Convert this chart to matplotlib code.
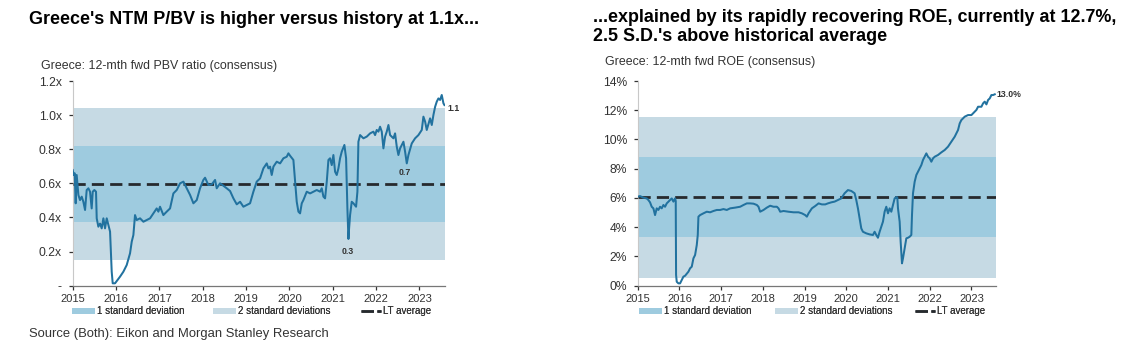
import matplotlib
matplotlib.use("Agg")
import matplotlib.pyplot as plt
from matplotlib.patches import Patch
from matplotlib.lines import Line2D

plt.rcParams['font.family'] = ['Liberation Sans', 'DejaVu Sans']

# ---------------- data ----------------
pbv_dates = [2015.000, 2015.023, 2015.046, 2015.069, 2015.092, 2015.131, 2015.169, 2015.208, 2015.246,
             2015.285, 2015.323, 2015.362, 2015.400, 2015.438, 2015.462, 2015.500, 2015.538, 2015.554,
             2015.592, 2015.631, 2015.669, 2015.708, 2015.746, 2015.785, 2015.823, 2015.862, 2015.900,
             2015.923, 2015.977, 2016.015, 2016.092, 2016.169, 2016.246, 2016.323, 2016.362, 2016.400,
             2016.438, 2016.477, 2016.554, 2016.631, 2016.708, 2016.785, 2016.862, 2016.938, 2016.977,
             2017.015, 2017.092, 2017.169, 2017.246, 2017.323, 2017.400, 2017.477, 2017.554, 2017.631,
             2017.708, 2017.785, 2017.862, 2017.938, 2018.015, 2018.054, 2018.131, 2018.208, 2018.285,
             2018.323, 2018.400, 2018.477, 2018.554, 2018.631, 2018.708, 2018.785, 2018.862, 2018.938,
             2019.015, 2019.092, 2019.169, 2019.246, 2019.323,
             2019.400, 2019.477, 2019.515, 2019.554, 2019.592, 2019.631, 2019.708, 2019.785, 2019.862,
             2019.938, 2019.977, 2020.015, 2020.092, 2020.131, 2020.169, 2020.208, 2020.246, 2020.285,
             2020.323, 2020.400, 2020.477, 2020.554, 2020.631, 2020.708, 2020.746, 2020.785, 2020.823,
             2020.862, 2020.900, 2020.938, 2020.977, 2021.015, 2021.054, 2021.092, 2021.131, 2021.169,
             2021.208, 2021.269, 2021.308, 2021.338, 2021.362, 2021.377, 2021.400, 2021.438, 2021.477,
             2021.538, 2021.569, 2021.592, 2021.631, 2021.708, 2021.785, 2021.862, 2021.938, 2021.977,
             2022.015, 2022.054, 2022.092, 2022.131, 2022.169, 2022.208, 2022.246, 2022.285, 2022.323,
             2022.400, 2022.438, 2022.477, 2022.515, 2022.554, 2022.631, 2022.669, 2022.708, 2022.746,
             2022.823, 2022.900, 2022.977, 2023.054, 2023.092, 2023.131, 2023.169, 2023.246, 2023.285,
             2023.323, 2023.362, 2023.400, 2023.438, 2023.477, 2023.515, 2023.554, 2023.577]
pbv_values = [0.678, 0.649, 0.659, 0.483, 0.649, 0.532, 0.502, 0.522, 0.492,
              0.444, 0.561, 0.571, 0.551, 0.453, 0.551, 0.561, 0.551, 0.395,
              0.346, 0.365, 0.336, 0.395, 0.336, 0.395, 0.356, 0.317, 0.082,
              0.014, 0.014, 0.027, 0.053, 0.082, 0.121, 0.190, 0.258, 0.297,
              0.414, 0.385, 0.395, 0.375, 0.385, 0.395, 0.424, 0.453, 0.434,
              0.463, 0.414, 0.434, 0.453, 0.541, 0.561, 0.600, 0.610, 0.571,
              0.532, 0.483, 0.502, 0.571, 0.620, 0.633, 0.590, 0.594, 0.620,
              0.571, 0.600, 0.586, 0.571, 0.555, 0.512, 0.477, 0.492, 0.463,
              0.473, 0.483, 0.551, 0.610, 0.629,
              0.688, 0.717, 0.688, 0.698, 0.649, 0.698, 0.727, 0.717, 0.747,
              0.756, 0.776, 0.762, 0.737, 0.610, 0.492, 0.434, 0.424, 0.483,
              0.502, 0.551, 0.541, 0.551, 0.561, 0.551, 0.571, 0.522, 0.512,
              0.610, 0.737, 0.747, 0.707, 0.766, 0.668, 0.649, 0.688, 0.747,
              0.786, 0.825, 0.747, 0.453, 0.274, 0.336, 0.414, 0.492, 0.483,
              0.463, 0.551, 0.844, 0.883, 0.864, 0.874, 0.893, 0.903, 0.883,
              0.913, 0.903, 0.932, 0.903, 0.805, 0.874, 0.903, 0.942, 0.883,
              0.864, 0.893, 0.815, 0.766, 0.805, 0.844, 0.786, 0.717, 0.766,
              0.834, 0.864, 0.883, 0.913, 0.991, 0.962, 0.913, 0.981, 0.942,
              1.001, 1.049, 1.079, 1.098, 1.089, 1.118, 1.069, 1.059]
pbv_mean = 0.597
pbv_sd = 0.223

roe_dates = [2015.000, 2015.056, 2015.136, 2015.216, 2015.256, 2015.296, 2015.336, 2015.376, 2015.416,
             2015.456, 2015.496, 2015.536, 2015.576, 2015.616, 2015.656, 2015.696, 2015.736, 2015.776,
             2015.816, 2015.856, 2015.896, 2015.912, 2015.920, 2015.936, 2015.976, 2016.016, 2016.056,
             2016.096, 2016.136, 2016.216, 2016.256, 2016.296, 2016.336, 2016.376, 2016.416, 2016.440,
             2016.456, 2016.496, 2016.576, 2016.656, 2016.736, 2016.816, 2016.896, 2016.976, 2017.056,
             2017.136, 2017.216, 2017.336, 2017.456, 2017.536, 2017.616, 2017.696, 2017.776, 2017.856,
             2017.896, 2017.936, 2018.016, 2018.096, 2018.176, 2018.256, 2018.336, 2018.376, 2018.416,
             2018.496, 2018.616, 2018.736, 2018.856, 2018.936, 2019.016, 2019.056, 2019.096, 2019.176,
             2019.256, 2019.336, 2019.416, 2019.496,
             2019.560, 2019.640, 2019.720, 2019.800, 2019.880, 2019.960, 2020.000, 2020.040, 2020.120,
             2020.200, 2020.240, 2020.280, 2020.320, 2020.360, 2020.400, 2020.480, 2020.560, 2020.640,
             2020.680, 2020.720, 2020.760, 2020.800, 2020.840, 2020.880, 2020.920, 2020.960, 2021.000,
             2021.040, 2021.080, 2021.120, 2021.160, 2021.200, 2021.224, 2021.240, 2021.280, 2021.304,
             2021.336, 2021.360, 2021.400, 2021.440, 2021.480, 2021.520, 2021.560, 2021.576, 2021.600,
             2021.640, 2021.680, 2021.720, 2021.760, 2021.800, 2021.840, 2021.880, 2021.920, 2021.960,
             2022.000, 2022.040, 2022.080, 2022.120, 2022.200, 2022.280, 2022.360, 2022.440, 2022.520,
             2022.600, 2022.680, 2022.720, 2022.760, 2022.840, 2022.920, 2023.000, 2023.040, 2023.120,
             2023.160, 2023.240, 2023.280, 2023.320, 2023.360, 2023.400, 2023.440, 2023.480, 2023.520,
             2023.560]
roe_values = [6.09, 6.13, 6.02, 5.97, 5.86, 5.70, 5.40, 5.29, 4.83,
              5.29, 5.18, 5.40, 5.29, 5.52, 5.40, 5.63, 5.75, 5.86,
              5.97, 5.75, 5.97, 5.79, 0.73, 0.27, 0.16, 0.16, 0.39,
              0.62, 0.68, 0.96, 1.19, 1.30, 1.87, 2.10, 2.78, 3.47,
              4.72, 4.83, 4.95, 5.06, 5.02, 5.11, 5.18, 5.18, 5.24,
              5.18, 5.29, 5.34, 5.40, 5.52, 5.63, 5.63, 5.61, 5.52,
              5.40, 5.06, 5.18, 5.34, 5.47, 5.40, 5.40, 5.29, 5.06,
              5.11, 5.06, 5.02, 5.02, 4.95, 4.83, 4.72, 4.95, 5.29,
              5.45, 5.63, 5.56, 5.56,
              5.63, 5.70, 5.75, 5.86, 5.97, 6.32, 6.43, 6.54, 6.48,
              6.32, 5.86, 5.29, 4.61, 3.92, 3.69, 3.58, 3.51, 3.47,
              3.69, 3.47, 3.28, 3.69, 4.04, 4.38, 5.06, 5.40, 4.95,
              5.29, 5.06, 5.52, 5.97, 6.06, 6.04, 5.29, 4.38, 3.01,
              1.53, 1.87, 2.55, 3.24, 3.28, 3.35, 3.47, 4.83, 6.32,
              7.11, 7.57, 7.80, 8.03, 8.25, 8.60, 8.82, 9.05, 8.82,
              8.71, 8.48, 8.71, 8.82, 8.94, 9.12, 9.28, 9.51, 9.85,
              10.19, 10.65, 11.10, 11.33, 11.56, 11.67, 11.67, 11.79, 12.02,
              12.24, 12.24, 12.47, 12.59, 12.40, 12.70, 12.81, 13.04, 13.04,
              13.09]
roe_mean = 6.06
roe_sd = 2.75

years = list(range(2015, 2024))
pbv_ticks = [0.0, 0.2, 0.4, 0.6, 0.8, 1.0, 1.2]
pbv_ticklabels = ['-', '0.2x', '0.4x', '0.6x', '0.8x', '1.0x', '1.2x']
roe_ticks = [0, 2, 4, 6, 8, 10, 12, 14]
roe_ticklabels = ['0%', '2%', '4%', '6%', '8%', '10%', '12%', '14%']

title_left = "Greece's NTM P/BV is higher versus history at 1.1x..."
title_right_1 = "...explained by its rapidly recovering ROE, currently at 12.7%,"
title_right_2 = "2.5 S.D.'s above historical average"
sub_left = "Greece: 12-mth fwd PBV ratio (consensus)"
sub_right = "Greece: 12-mth fwd ROE (consensus)"
source = "Source (Both): Eikon and Morgan Stanley Research"
legend_labels = ['1 standard deviation', '2 standard deviations', 'LT average']

# ---------------- style ----------------
W, H = 1135, 353
LINE = '#22729f'
SD1 = '#9ecbdf'
SD2 = '#c6dae4'
MEANC = '#262a2e'
TXT = '#333333'
XMAX = 2023.59

fig = plt.figure(figsize=(W / 100, H / 100), dpi=100)


def fx(x):
    return x / W


def fy(y):
    return 1 - y / H


def style_axis(ax, ticks, labels, ymax):
    ax.set_xlim(2015, XMAX)
    ax.set_ylim(0, ymax)
    ax.set_xticks(years)
    ax.set_xticklabels([str(y) for y in years])
    ax.set_yticks(ticks)
    ax.set_yticklabels(labels)
    for s in ['top', 'right']:
        ax.spines[s].set_visible(False)
    ax.spines['left'].set_color('#c8c8c8')
    ax.spines['bottom'].set_color('#777777')
    ax.spines['left'].set_linewidth(0.8)
    ax.spines['bottom'].set_linewidth(0.9)
    ax.tick_params(axis='both', colors=TXT, length=3.2, width=0.9, direction='out')
    ax.tick_params(axis='y', labelsize=8.7, pad=4.6)
    ax.tick_params(axis='x', labelsize=8.0, pad=2.8)


def draw(ax, dates, values, mean, sd):
    ax.axhspan(mean - 2 * sd, mean + 2 * sd, color=SD2, lw=0, zorder=0)
    ax.axhspan(mean - sd, mean + sd, color=SD1, lw=0, zorder=1)
    ax.axhline(mean, color=MEANC, lw=2.0, dashes=(4.4, 2.2), zorder=3)
    ax.plot(dates, values, color=LINE, lw=1.45, zorder=4)


ax1 = fig.add_axes([fx(72.7), fy(285.7), fx(445 - 72.7), (285.7 - 81) / H])
draw(ax1, pbv_dates, pbv_values, pbv_mean, pbv_sd)
style_axis(ax1, pbv_ticks, pbv_ticklabels, 1.2)

ax2 = fig.add_axes([fx(637.7), fy(285.7), fx(996 - 637.7), (285.7 - 81) / H])
draw(ax2, roe_dates, roe_values, roe_mean, roe_sd)
style_axis(ax2, roe_ticks, roe_ticklabels, 14)

# value labels
ax1.annotate('1.1', (pbv_dates[-1], pbv_values[-1]), xytext=(3, -3), textcoords='offset pixels',
             ha='left', va='center', fontsize=6.3, fontweight='bold', color=TXT)
i7 = pbv_dates.index(2022.708)
ax1.annotate('0.7', (pbv_dates[i7], pbv_values[i7]), xytext=(-2, -9), textcoords='offset pixels',
             ha='center', va='center', fontsize=6.3, fontweight='bold', color=TXT)
i3 = pbv_values.index(min(pbv_values[100:]))
ax1.annotate('0.3', (pbv_dates[i3], pbv_values[i3]), xytext=(-1, -13), textcoords='offset pixels',
             ha='center', va='center', fontsize=6.3, fontweight='bold', color=TXT)
ax2.annotate('13.0%', (roe_dates[-1], roe_values[-1]), xytext=(2, 0), textcoords='offset pixels',
             ha='left', va='center', fontsize=6.3, fontweight='bold', color=TXT)

# titles
TS = 12.9
fig.text(fx(28.8), fy(19), title_left, fontsize=TS, fontweight='bold', color='black',
         ha='left', va='center')
fig.text(fx(593.2), fy(18), title_right_1, fontsize=TS, fontweight='bold', color='black',
         ha='left', va='center')
fig.text(fx(593.2), fy(36.5), title_right_2, fontsize=TS, fontweight='bold', color='black',
         ha='left', va='center')
fig.text(fx(41.3), fy(65.5), sub_left, fontsize=8.9, color=TXT, ha='left', va='center')
fig.text(fx(604.6), fy(62), sub_right, fontsize=8.9, color=TXT, ha='left', va='center')
fig.text(fx(28.8), fy(334), source, fontsize=9.4, color=TXT, ha='left', va='center')

# legends (one entry each)
h_sd1 = Patch(facecolor=SD1, edgecolor='none')
h_sd2 = Patch(facecolor=SD2, edgecolor='none')
h_mean = Line2D([], [], color=MEANC, lw=1.8, dashes=(5.0, 1.35))
handles = [h_sd1, h_sd2, h_mean]
LFS = 7.0


def legend_row(xs, y):
    for k, (h, lab, x) in enumerate(zip(handles, legend_labels, xs)):
        is_line = k == 2
        lg = fig.legend(handles=[h], labels=[lab], loc='center left',
                        bbox_to_anchor=(fx(x), fy(y)), frameon=False, fontsize=LFS,
                        handlelength=2.1 if is_line else 2.4, handleheight=0.5,
                        handletextpad=0.25 if is_line else 0.2,
                        borderpad=0, borderaxespad=0, labelcolor=TXT)
        fig.add_artist(lg)


legend_row([71.6, 213, 360.5], 311.5)
legend_row([639, 775, 914.6], 311.5)

fig.savefig('out.png', dpi=100)
